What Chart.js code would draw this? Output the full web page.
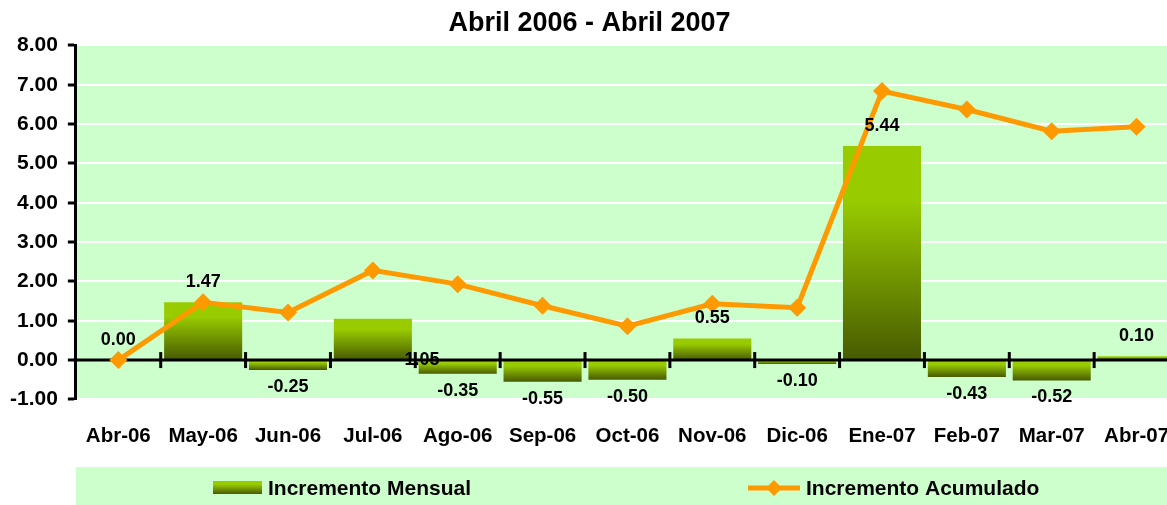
<!DOCTYPE html>
<html>
<head>
<meta charset="utf-8">
<script src="https://cdn.jsdelivr.net/npm/chart.js@4.4.1/dist/chart.umd.min.js"></script>
<style>
html,body{margin:0;padding:0;background:#fff;overflow:hidden;width:1167px;height:505px}
#wrap{width:1192px;height:505px;position:relative}
</style>
</head>
<body>
<div id="wrap"><canvas id="c" width="1192" height="505"></canvas></div>
<script>
// ---- data ----
const chartTitle = 'Abril 2006 - Abril 2007';
const categories = ['Abr-06','May-06','Jun-06','Jul-06','Ago-06','Sep-06','Oct-06','Nov-06','Dic-06','Ene-07','Feb-07','Mar-07','Abr-07'];
const incrementoMensual = [0.00, 1.47, -0.25, 1.05, -0.35, -0.55, -0.50, 0.55, -0.10, 5.44, -0.43, -0.52, 0.10];
const incrementoAcumulado = [0.00, 1.47, 1.21, 2.28, 1.93, 1.38, 0.86, 1.43, 1.33, 6.84, 6.37, 5.82, 5.93];
const yTickValues = [-1, 0, 1, 2, 3, 4, 5, 6, 7, 8];
const seriesNames = ['Incremento Mensual', 'Incremento Acumulado'];

// ---- styles ----
const FONT = '"Liberation Sans", Arial, sans-serif';
const PLOT_BG = '#CCFFCC';
const ORANGE = '#FF9900';
const GREEN_TOP = '#99CC00';
const GREEN_BOT = '#475A00';

function barGradient(ctx2d, top, bot) {
  const g = ctx2d.createLinearGradient(0, top, 0, bot);
  g.addColorStop(0, GREEN_TOP);
  g.addColorStop(0.25, GREEN_TOP);
  g.addColorStop(1, GREEN_BOT);
  return g;
}

const plotBg = {
  id: 'plotBg',
  beforeDraw(chart) {
    const {ctx, chartArea: a} = chart;
    ctx.save();
    ctx.fillStyle = PLOT_BG;
    ctx.fillRect(a.left, a.top, a.right - a.left, a.bottom - a.top);
    ctx.restore();
  }
};

const zeroAxis = {
  id: 'zeroAxis',
  beforeDatasetDraw(chart, args) {
    if (args.index !== 1) return;
    const {ctx, chartArea: a, scales: {x, y}} = chart;
    const y0 = y.getPixelForValue(0);
    const step = x.getPixelForValue(1) - x.getPixelForValue(0);
    ctx.save();
    ctx.strokeStyle = '#000';
    ctx.lineWidth = 3;
    ctx.beginPath();
    ctx.moveTo(a.left, y0);
    ctx.lineTo(a.right, y0);
    ctx.stroke();
    for (let i = 0; i < categories.length; i++) {
      const bx = x.getPixelForValue(i) + step / 2;
      ctx.beginPath();
      ctx.moveTo(bx, y0 - 8);
      ctx.lineTo(bx, y0 + 8);
      ctx.stroke();
    }
    ctx.restore();
  }
};

const valueLabels = {
  id: 'valueLabels',
  afterDatasetsDraw(chart) {
    const {ctx, scales: {x, y}} = chart;
    const step = x.getPixelForValue(1) - x.getPixelForValue(0);
    ctx.save();
    ctx.font = 'bold 18px ' + FONT;
    ctx.fillStyle = '#000';
    ctx.textAlign = 'center';
    ctx.textBaseline = 'middle';
    incrementoMensual.forEach((v, i) => {
      let px = x.getPixelForValue(i);
      let py;
      if (i === 3) { // label displaced onto the axis, as in the original
        px += step * 0.58;
        py = y.getPixelForValue(0);
      } else if (v >= 0) {
        py = y.getPixelForValue(v) - 20;
      } else {
        py = y.getPixelForValue(v) + 17;
      }
      ctx.fillText(v.toFixed(2), px, py);
    });
    ctx.restore();
  }
};

const customLegend = {
  id: 'customLegend',
  afterDraw(chart) {
    const {ctx, chartArea: a, height} = chart;
    const top = height - 38;
    const cy = top + 21;
    ctx.save();
    ctx.fillStyle = PLOT_BG;
    ctx.fillRect(a.left, top, chart.width - a.left, 38);
    ctx.fillStyle = barGradient(ctx, cy - 7, cy + 6);
    ctx.fillRect(213, cy - 7, 49, 13);
    ctx.font = 'bold 21px ' + FONT;
    ctx.fillStyle = '#000';
    ctx.textBaseline = 'middle';
    ctx.textAlign = 'left';
    ctx.fillText(seriesNames[0], 268, cy + 1);
    ctx.strokeStyle = ORANGE;
    ctx.lineWidth = 5;
    ctx.beginPath();
    ctx.moveTo(748, cy);
    ctx.lineTo(800, cy);
    ctx.stroke();
    ctx.fillStyle = ORANGE;
    ctx.beginPath();
    ctx.moveTo(774, cy - 8);
    ctx.lineTo(782, cy);
    ctx.lineTo(774, cy + 8);
    ctx.lineTo(766, cy);
    ctx.closePath();
    ctx.fill();
    ctx.fillStyle = '#000';
    ctx.fillText(seriesNames[1], 806, cy + 1);
    ctx.restore();
  }
};

new Chart(document.getElementById('c'), {
  data: {
    labels: categories,
    datasets: [
      {
        type: 'bar',
        label: seriesNames[0],
        data: incrementoMensual,
        order: 1,
        categoryPercentage: 0.92,
        barPercentage: 1.0,
        borderWidth: 0,
        backgroundColor(c) {
          const chart = c.chart;
          if (c.type !== 'data' || !chart.chartArea) return GREEN_TOP;
          const y = chart.scales.y;
          const v = c.raw;
          const top = y.getPixelForValue(Math.max(v, 0));
          const bot = y.getPixelForValue(Math.min(v, 0));
          if (bot - top < 1) return GREEN_TOP;
          return barGradient(chart.ctx, top, bot);
        }
      },
      {
        type: 'line',
        label: seriesNames[1],
        data: incrementoAcumulado,
        order: 0,
        borderColor: ORANGE,
        backgroundColor: ORANGE,
        borderWidth: 5,
        pointStyle: 'rectRot',
        pointRadius: 9,
        pointBorderWidth: 0,
        pointBackgroundColor: ORANGE,
        tension: 0,
        fill: false
      }
    ]
  },
  options: {
    responsive: false,
    animation: false,
    devicePixelRatio: 1,
    layout: { padding: { left: 0, right: 13, top: 0, bottom: 39 } },
    plugins: {
      legend: { display: false },
      tooltip: { enabled: false },
      title: {
        display: true,
        text: chartTitle,
        color: '#000',
        font: { family: FONT, size: 27, weight: 'bold' },
        padding: { top: 7, bottom: 6 }
      }
    },
    scales: {
      x: {
        offset: true,
        grid: { display: false },
        border: { display: false },
        ticks: {
          color: '#000',
          font: { family: FONT, size: 20.5, weight: 'bold' },
          padding: 17,
          maxRotation: 0,
          autoSkip: false
        }
      },
      y: {
        min: -1,
        max: 8,
        afterBuildTicks(s) { s.ticks = yTickValues.map(v => ({ value: v })); },
        ticks: {
          color: '#000',
          font: { family: FONT, size: 21, weight: 'bold' },
          padding: 10,
          callback: v => Number(v).toFixed(2)
        },
        grid: {
          color: '#FFFFFF',
          lineWidth: 2,
          tickColor: '#000',
          tickWidth: 3,
          tickLength: 8
        },
        border: { color: '#000', width: 3 }
      }
    }
  },
  plugins: [plotBg, zeroAxis, valueLabels, customLegend]
});
</script>
</body>
</html>
